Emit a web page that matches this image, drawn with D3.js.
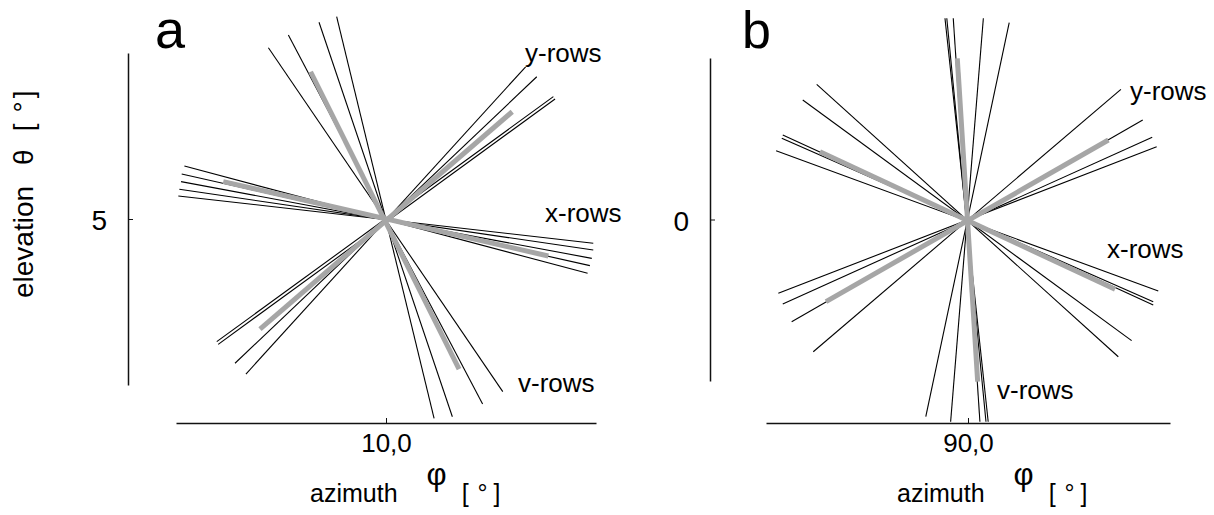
<!DOCTYPE html>
<html>
<head>
<meta charset="utf-8">
<script src="https://cdn.jsdelivr.net/npm/d3@7"></script>
<style>
body { margin: 0; background: #fff; }
svg { font-family: "Liberation Sans", Arial, sans-serif; }
.row { stroke: #000; stroke-width: 1.1; fill: none; }
.mean { stroke: #a6a6a6; stroke-width: 5; }
.lbl { font-size: 26px; fill: #000; }
</style>
</head>
<body>
<svg width="1214" height="515"></svg>
<script>
// every row is [azimuth1, elevation1, azimuth2, elevation2] in degrees

// panel a (around azimuth 10, elevation 5)
var aXRows = [
    [9.040, 5.319, 10.960, 4.673],
    [9.027, 5.271, 10.971, 4.719],
    [9.024, 5.225, 10.980, 4.763],
    [9.016, 5.179, 10.987, 4.813],
    [9.011, 5.139, 10.987, 4.854]
];
var aYRows = [
    [10.665, 5.917, 9.333, 4.066],
    [10.718, 5.857, 9.281, 4.131],
    [10.797, 5.737, 9.194, 4.261],
    [10.805, 5.723, 9.201, 4.245]
];
var aVRows = [
    [9.440, 6.032, 10.556, 3.960],
    [9.535, 6.108, 10.460, 3.886],
    [9.681, 6.185, 10.316, 3.809],
    [9.765, 6.219, 10.229, 3.799]
];
var aMeans = [
    [9.225, 5.225, 10.773, 4.777],
    [10.601, 5.646, 9.400, 4.336],
    [9.641, 5.887, 10.348, 4.095]
];
var aTickX = [10.0], aTickXLabel = ["10,0"];
var aTickY = [5], aTickYLabel = ["5"];

// panel b (around azimuth 90, elevation 0)
var bXRows = [
    [89.251, 0.837, 90.744, -0.850],
    [89.182, 0.740, 90.810, -0.750],
    [89.083, 0.523, 90.917, -0.529],
    [89.078, 0.503, 90.917, -0.509],
    [89.050, 0.426, 90.942, -0.443]
];
var bYRows = [
    [90.757, 0.806, 89.234, -0.819],
    [90.865, 0.616, 89.127, -0.633],
    [90.912, 0.509, 89.083, -0.523],
    [90.934, 0.451, 89.061, -0.457]
];
var bVRows = [
    [90.204, 1.219, 89.791, -1.221],
    [90.076, 1.246, 89.914, -1.252],
    [89.927, 1.246, 90.059, -1.252],
    [89.895, 1.246, 90.089, -1.252],
    [89.886, 1.246, 90.100, -1.252]
];
var bMeans = [
    [89.267, 0.420, 90.728, -0.432],
    [90.695, 0.492, 89.297, -0.509],
    [89.947, 0.998, 90.048, -1.004]
];
var bTickX = [90.0], bTickXLabel = ["90,0"];
var bTickY = [0], bTickYLabel = ["0"];

var svg = d3.select("svg");
var axisBase = 423;

function draw_panel(p) {
    var g = svg.append("g");

    var xAxis = d3.axisBottom(p.x)
        .tickValues(p.tickX)
        .tickFormat(function (d, i) { return p.tickXLabel[i]; })
        .tickSizeInner(-5).tickSizeOuter(0).tickPadding(11);
    var gx = g.append("g")
        .attr("transform", "translate(0," + axisBase + ")")
        .call(xAxis);
    gx.attr("font-family", null).attr("font-size", 26);
    gx.select(".domain").attr("stroke-width", 1.6).attr("stroke", "#111");
    gx.selectAll(".tick line").attr("stroke", "#111");

    var yAxis = d3.axisLeft(p.y)
        .tickValues(p.tickY)
        .tickFormat(function (d, i) { return p.tickYLabel[i]; })
        .tickSizeInner(-5).tickSizeOuter(0).tickPadding(21);
    var gy = g.append("g")
        .attr("transform", "translate(" + p.axisX + ",0)")
        .call(yAxis);
    gy.attr("font-family", null).attr("font-size", 28);
    gy.select(".domain").attr("stroke-width", 1.5).attr("stroke", "#111");
    gy.selectAll(".tick line").attr("stroke", "#111");
    gy.selectAll(".tick text").attr("dy", "0.38em");

    var rows = p.xRows.concat(p.yRows, p.vRows);
    g.selectAll(".row")
        .data(rows)
        .enter().append("line")
        .attr("class", "row")
        .attr("x1", function (d) { return p.x(d[0]); })
        .attr("y1", function (d) { return p.y(d[1]); })
        .attr("x2", function (d) { return p.x(d[2]); })
        .attr("y2", function (d) { return p.y(d[3]); })
        .attr("stroke-width", function (d) { return p.thick.indexOf(d) >= 0 ? 1.8 : null; });

    g.selectAll(".mean")
        .data(p.means)
        .enter().append("line")
        .attr("class", "mean")
        .attr("x1", function (d) { return p.x(d[0]); })
        .attr("y1", function (d) { return p.y(d[1]); })
        .attr("x2", function (d) { return p.x(d[2]); })
        .attr("y2", function (d) { return p.y(d[3]); });

    // panel letter
    g.append("text").attr("x", p.letterX).attr("y", 48)
        .attr("font-size", p.letterSize).text(p.letter);

    // row names
    p.names.forEach(function (n) {
        g.append("text").attr("class", "lbl").attr("x", n[1]).attr("y", n[2]).text(n[0]);
    });

    // azimuth title
    var t = g.append("text").attr("x", p.titleX).attr("y", 502).attr("font-size", 25);
    t.append("tspan").text("azimuth");
    t.append("tspan").attr("dx", 29).attr("dy", -17).attr("font-size", 31).text("\u03c6");
    t.append("tspan").attr("dx", 15).attr("dy", 17).text("[");
    t.append("tspan").attr("dx", 9).text("\u00b0");
    t.append("tspan").attr("dx", 6).text("]");
}

draw_panel({
    x: d3.scaleLinear().domain([9, 11]).range([176, 596]),
    y: d3.scaleLinear().domain([4, 6]).range([385, 53]),
    axisX: 128,
    xRows: aXRows, yRows: aYRows, vRows: aVRows, means: aMeans,
    thick: [aVRows[2]],
    tickX: aTickX, tickXLabel: aTickXLabel, tickY: aTickY, tickYLabel: aTickYLabel,
    letter: "a", letterX: 155, letterSize: 54,
    names: [["y-rows", 525, 62], ["x-rows", 545, 222], ["v-rows", 518, 392]],
    titleX: 310
});

draw_panel({
    x: d3.scaleLinear().domain([89, 91]).range([766, 1170]),
    y: d3.scaleLinear().domain([-1, 1]).range([381, 58]),
    axisX: 710,
    xRows: bXRows, yRows: bYRows, vRows: bVRows, means: bMeans,
    thick: [bVRows[3], bYRows[1]],
    tickX: bTickX, tickXLabel: bTickXLabel, tickY: bTickY, tickYLabel: bTickYLabel,
    letter: "b", letterX: 742, letterSize: 52,
    names: [["y-rows", 1130, 100], ["x-rows", 1107, 258], ["v-rows", 997, 399]],
    titleX: 897
});

// elevation title (panel a only)
var et = svg.append("text")
    .attr("transform", "translate(33,298) rotate(-90)")
    .attr("font-size", 28);
et.append("tspan").text("elevation");
et.append("tspan").attr("dx", 21).text("\u03b8");
et.append("tspan").attr("dx", 18).text("[");
et.append("tspan").attr("dx", 11).text("\u00b0");
et.append("tspan").attr("dx", 3).text("]");
</script>
</body>
</html>
